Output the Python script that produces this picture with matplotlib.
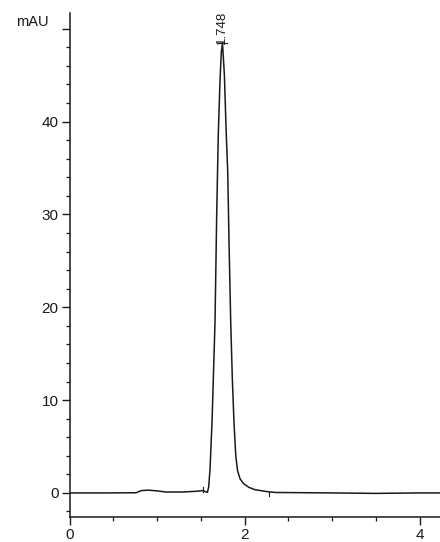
import matplotlib
matplotlib.use("Agg")
import matplotlib.pyplot as plt
from matplotlib.ticker import MultipleLocator, FixedLocator

# Retention time (min) and absorbance (mAU)
time_min = [0.00, 0.40, 0.76, 0.82, 0.90, 1.00, 1.10, 1.30, 1.45, 1.52, 1.56,
            1.575, 1.59, 1.606, 1.63, 1.663, 1.682, 1.70, 1.72, 1.735, 1.748,
            1.77, 1.79, 1.808, 1.825, 1.842, 1.86, 1.88, 1.90, 1.92, 1.95,
            1.99, 2.05, 2.12, 2.25, 2.35, 3.00, 3.50, 4.00, 4.30]
signal_mau = [0.00, 0.00, 0.02, 0.25, 0.30, 0.22, 0.10, 0.10, 0.18, 0.25, 0.12,
              0.05, 0.6, 2.6, 8.0, 18.5, 30.0, 38.5, 44.5, 47.5, 48.5,
              45.0, 39.0, 34.6, 26.0, 18.5, 12.5, 7.5, 4.0, 2.4, 1.5,
              1.0, 0.6, 0.35, 0.15, 0.05, 0.0, -0.05, 0.0, 0.0]

peak_rt = 1.748
peak_height = 48.5
integration_marks = [1.53, 2.28]

y_major = [0, 10, 20, 30, 40, 50]
y_labels = ["0", "10", "20", "30", "40", ""]
x_major = [0, 2, 4]

INK = "#1a1a1a"
FONT = "Liberation Sans"

fig = plt.figure(figsize=(4.4, 5.42), dpi=100)
ax = fig.add_axes([0.158, 0.046, 0.842, 0.930])

ax.plot(time_min, signal_mau, color=INK, linewidth=1.1)

# baseline start / end markers of the integrated peak
ax.plot([integration_marks[0]] * 2, [0.1, 0.6], color=INK, linewidth=0.8)
ax.plot([integration_marks[1]] * 2, [0.1, -0.35], color=INK, linewidth=0.8)
# apex marker
ax.plot([peak_rt - 0.05, peak_rt + 0.05], [peak_height, peak_height],
        color=INK, linewidth=0.8)
ax.text(peak_rt - 0.005, peak_height - 0.1, f"{peak_rt:.3f}", rotation=90,
        ha="center", va="bottom", fontsize=9.5, family=FONT, color=INK)

ax.set_xlim(0, 4.234)
ax.set_ylim(-2.6, 51.7)

ax.spines["top"].set_visible(False)
ax.spines["right"].set_visible(False)
for side in ("left", "bottom"):
    ax.spines[side].set_color(INK)
    ax.spines[side].set_linewidth(1.1)

ax.yaxis.set_major_locator(FixedLocator(y_major))
ax.set_yticklabels(y_labels)
ax.yaxis.set_minor_locator(MultipleLocator(2))
ax.xaxis.set_major_locator(FixedLocator(x_major))
ax.xaxis.set_minor_locator(MultipleLocator(0.5))

ax.tick_params(axis="both", which="major", length=6, width=1.0, color=INK,
               labelsize=11, labelcolor=INK, pad=2)
ax.tick_params(axis="both", which="minor", length=3, width=0.9, color=INK)
for lbl in ax.get_xticklabels() + ax.get_yticklabels():
    lbl.set_family(FONT)

fig.text(0.036, 0.960, "mAU", fontsize=10.5, family=FONT,
         color=INK, ha="left", va="center")

fig.savefig("out.png", dpi=100, facecolor="white")
